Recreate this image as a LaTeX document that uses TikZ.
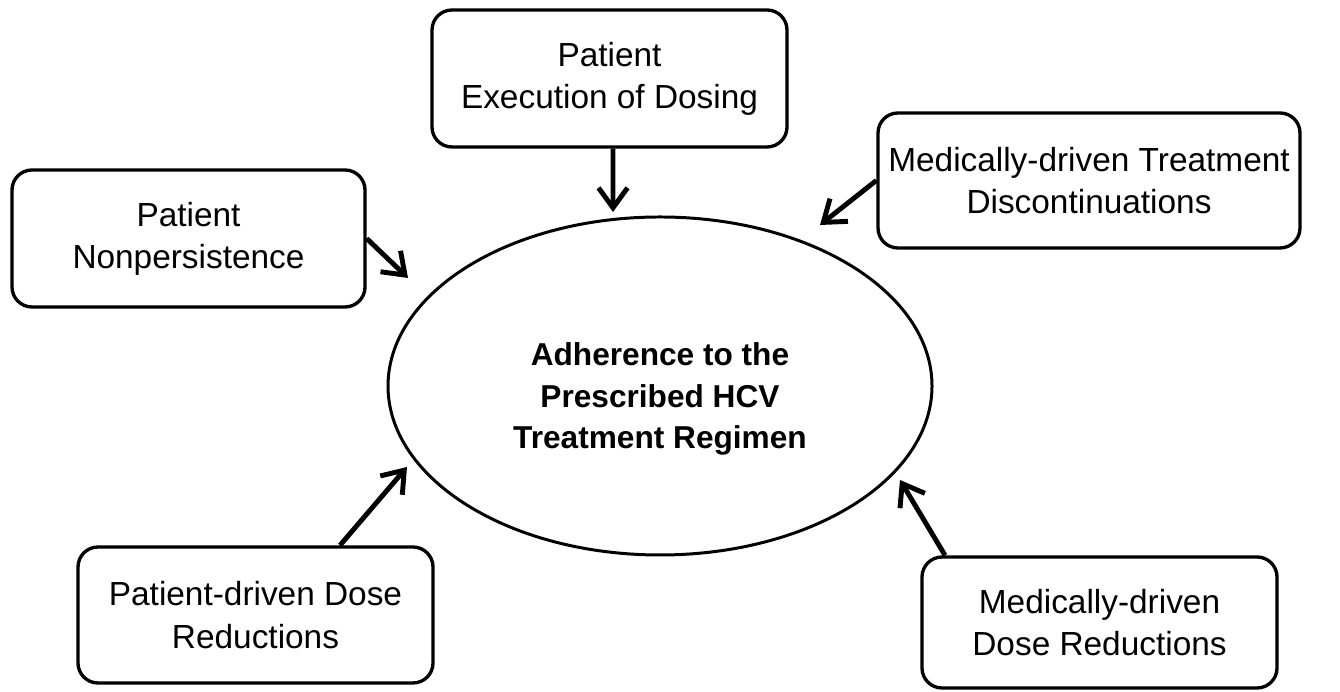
\documentclass[tikz,border=0pt]{standalone}
\usepackage{fontspec}
\setmainfont{Liberation Sans}
\usetikzlibrary{positioning}
\usetikzlibrary{shapes.geometric, arrows.meta}

\tikzset{
  factor/.style={draw, line width=1.9pt, rounded corners=0.4cm, align=center,
    minimum width=7.1cm, minimum height=2.74cm, font=\fontsize{19}{24}\selectfont},
  link/.style={-{Straight Barb[length=4mm,width=5.8mm]}, line width=2.8pt}
}

\begin{document}
\begin{tikzpicture}
    \useasboundingbox (0,0) rectangle (26.8,13.84);

    \node (Adherence)[draw, ellipse, line width=1.7pt, minimum width=10.88cm, minimum height=6.76cm] at (13.2,6.12) {};
    \node (AdherenceText)[align=center, font=\bfseries\fontsize{18}{23.5}\selectfont]
      at ([yshift=-0.26cm]Adherence.center) {Adherence to the\\Prescribed HCV\\Treatment Regimen};

    \node (Execution)[factor] at (12.19,12.27) {Patient\\Execution of Dosing};
    \node (Nonpersistence)[factor, minimum width=7.06cm] at (3.77,9.07) {Patient\\Nonpersistence};
    \node (Discontinuation)[factor, minimum width=8.44cm, minimum height=2.7cm] at (21.78,10.23) {Medically-driven Treatment\\Discontinuations};
    \node (PatientDose)[factor, minimum height=2.72cm] at (5.11,1.54) {Patient-driven Dose\\Reductions};
    \node (MedicalDose)[factor, minimum height=2.62cm] at (21.99,1.39) {Medically-driven\\Dose Reductions};

    % arrow ends, just short of the ellipse
    \coordinate (ExecutionEnd) at (12.26,9.6);
    \coordinate (NonpersistenceEnd) at (8.16,8.28);
    \coordinate (DiscontinuationEnd) at (16.4,9.34);
    \coordinate (PatientDoseEnd) at (8.14,4.5);
    \coordinate (MedicalDoseEnd) at (18.0,4.24);

    \draw [link] ([xshift=0.07cm]Execution.south) -- (ExecutionEnd);
    \draw [link] (Nonpersistence.east) -- (NonpersistenceEnd);
    \draw [link] (Discontinuation.west) -- (DiscontinuationEnd);
    \draw [link] ([xshift=1.69cm]PatientDose.north) -- (PatientDoseEnd);
    \draw [link] ([xshift=-3.09cm]MedicalDose.north) -- (MedicalDoseEnd);
\end{tikzpicture}
\end{document}
